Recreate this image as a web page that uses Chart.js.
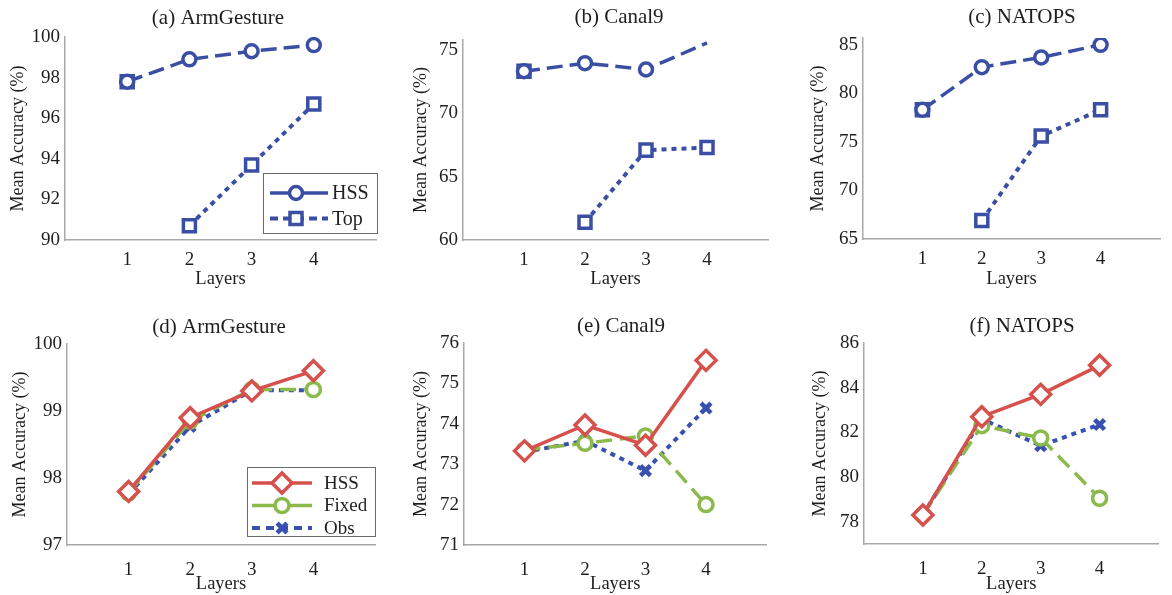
<!DOCTYPE html>
<html><head><meta charset="utf-8">
<script src="https://cdn.jsdelivr.net/npm/chart.js@4.4.1/dist/chart.umd.min.js"></script>
<style>
html,body{margin:0;padding:0;background:#fff;width:1172px;height:595px;overflow:hidden}
canvas{position:absolute;display:block}
</style></head><body>
<canvas id="pa" width="390" height="290" style="left:0;top:0"></canvas>
<canvas id="pb" width="390" height="290" style="left:390px;top:0"></canvas>
<canvas id="pc" width="392" height="290" style="left:780px;top:0"></canvas>
<canvas id="pd" width="390" height="305" style="left:0;top:290px"></canvas>
<canvas id="pe" width="390" height="305" style="left:390px;top:290px"></canvas>
<canvas id="pf" width="392" height="305" style="left:780px;top:290px"></canvas>
<script>
// ---- data ----
const layers = [1, 2, 3, 4];
const xTicks = [1, 2, 3, 4];

const armHSS = [97.8, 98.9, 99.3, 99.6];
const armTop = [97.8, 90.7, 93.7, 96.7];
const armFixed = [97.78, 98.85, 99.32, 99.32];
const armObs = [97.76, 98.77, 99.31, 99.31];

const canalHSS = [73.33, 73.97, 73.47, 75.57];
const canalTop = [73.33, 61.4, 67.1, 67.3];
const canalFixed = [73.35, 73.52, 73.7, 72.0];
const canalObs = [73.3, 73.58, 72.84, 74.39];

const natopsHSS = [78.3, 82.7, 83.7, 85.0];
const natopsTop = [78.3, 66.9, 75.6, 78.3];
const natopsFixed = [78.3, 82.3, 81.75, 79.05];
const natopsObs = [78.3, 82.6, 81.4, 82.35];

const yTicksA = [90, 92, 94, 96, 98, 100];
const yTicksB = [60, 65, 70, 75];
const yTicksC = [65, 70, 75, 80, 85];
const yTicksD = [97, 98, 99, 100];
const yTicksE = [71, 72, 73, 74, 75, 76];
const yTicksF = [78, 80, 82, 84, 86];

const seriesTop = ['HSS', 'Top'];
const seriesBottom = ['HSS', 'Fixed', 'Obs'];

// ---- styling ----
const FONT = "'Liberation Serif', 'Times New Roman', serif";
const TXT = '#1e1e1e';
const AXIS = '#a8a8a8';
const BLUE = '#3a4fa4';
const BLUE2 = '#3850b0';
const RED = '#d6504c';
const GREEN = '#8bb94c';
Chart.defaults.font.family = FONT;
Chart.defaults.color = TXT;

const pts = arr => layers.map((l, i) => ({x: l, y: arr[i]}));

function dsHSSTop(arr, hideLast) {
  return {label: seriesTop[0], data: pts(arr), borderColor: BLUE, borderWidth: 3.5, borderDash: [16, 7],
    pointStyle: 'circle', pointRadius: hideLast ? [6.5, 6.5, 6.5, 0] : 6.5, pointBorderWidth: 3.5,
    pointBorderColor: BLUE, pointBackgroundColor: '#fff', tension: 0};
}
function dsTop(arr) {
  return {label: seriesTop[1], data: pts(arr), borderColor: BLUE, borderWidth: 4, borderDash: [5, 5],
    segment: {borderColor: c => c.p0DataIndex === 0 ? 'rgba(0,0,0,0)' : undefined},
    pointStyle: 'rect', pointRadius: 8.5, pointBorderWidth: 3.5,
    pointBorderColor: BLUE, pointBackgroundColor: '#fff', tension: 0};
}
function dsHSSBot(arr) {
  return {label: seriesBottom[0], data: pts(arr), borderColor: RED, borderWidth: 3.5,
    pointStyle: 'rectRot', pointRadius: 10, pointBorderWidth: 3.5,
    pointBorderColor: RED, pointBackgroundColor: '#fff', tension: 0};
}
function dsFixed(arr) {
  return {label: seriesBottom[1], data: pts(arr), borderColor: GREEN, borderWidth: 3.5, borderDash: [16, 8],
    pointStyle: 'circle', pointRadius: 7, pointBorderWidth: 3.5,
    pointBorderColor: GREEN, pointBackgroundColor: '#fff', tension: 0};
}
function dsObs(arr) {
  return {label: seriesBottom[2], data: pts(arr), borderColor: BLUE2, borderWidth: 4, borderDash: [5, 5],
    pointStyle: 'crossRot', pointRadius: 7, pointBorderWidth: 4.5,
    pointBorderColor: BLUE2, pointBackgroundColor: BLUE2, tension: 0};
}

// ---- plugins ----
const titlePlugin = {
  id: 'panelTitle',
  afterDraw(chart, args, o) {
    if (!o || !o.text) return;
    const ctx = chart.ctx;
    ctx.save();
    ctx.font = '21px ' + FONT;
    ctx.fillStyle = TXT;
    ctx.textAlign = 'center';
    ctx.textBaseline = 'middle';
    ctx.fillText(o.text, o.x, o.y);
    ctx.restore();
  }
};

function drawMarker(ctx, ds, x, y) {
  ctx.save();
  ctx.setLineDash([]);
  ctx.strokeStyle = ds.pointBorderColor;
  ctx.fillStyle = ds.pointBackgroundColor;
  ctx.lineWidth = ds.pointBorderWidth;
  const r = Array.isArray(ds.pointRadius) ? ds.pointRadius[0] : ds.pointRadius;
  Chart.helpers.drawPoint(ctx, {pointStyle: ds.pointStyle, radius: r, borderWidth: ds.pointBorderWidth, rotation: 0}, x, y);
  ctx.restore();
}

const legendPlugin = {
  id: 'boxLegend',
  afterDraw(chart, args, o) {
    if (!o || !o.items) return;
    const ctx = chart.ctx;
    ctx.save();
    ctx.fillStyle = '#fff';
    ctx.fillRect(o.x, o.y, o.w, o.h);
    ctx.strokeStyle = '#6a6a6a';
    ctx.lineWidth = 1;
    ctx.strokeRect(o.x + 0.5, o.y + 0.5, o.w, o.h);
    o.items.forEach((it, i) => {
      const ds = chart.data.datasets[it.ds];
      const y = o.rows[i];
      ctx.save();
      ctx.setLineDash(it.dash || []);
      ctx.strokeStyle = ds.borderColor;
      ctx.lineWidth = ds.borderWidth;
      ctx.beginPath();
      ctx.moveTo(o.lx0, y);
      ctx.lineTo(o.lx1, y);
      ctx.stroke();
      ctx.restore();
      drawMarker(ctx, ds, o.mx, y);
      ctx.fillStyle = TXT;
      ctx.font = o.fs + 'px ' + FONT;
      ctx.textAlign = 'left';
      ctx.textBaseline = 'middle';
      ctx.fillText(ds.label, o.tx, y + 1);
    });
    ctx.restore();
  }
};

function makePanel(id, c) {
  new Chart(document.getElementById(id), {
    type: 'line',
    data: {datasets: c.datasets},
    plugins: [titlePlugin, legendPlugin],
    options: {
      responsive: false,
      animation: false,
      events: [],
      layout: {padding: {left: 0, top: c.T, right: c.R, bottom: 0}},
      plugins: {
        legend: {display: false},
        tooltip: {enabled: false},
        title: {display: false},
        panelTitle: {text: c.title, x: c.tx, y: c.ty},
        boxLegend: c.legend || {}
      },
      scales: {
        x: {
          type: 'linear', min: 0, max: 5,
          afterBuildTicks: s => { s.ticks = xTicks.map(v => ({value: v})); },
          afterFit: s => { s.height = c.H - c.B; },
          grid: {display: false, drawTicks: false},
          border: {display: true, color: AXIS, width: 1.5},
          ticks: {padding: c.xtp, color: TXT, font: {size: 19}, autoSkip: false, maxRotation: 0},
          title: {display: true, text: 'Layers', color: TXT, font: {size: 18.5}, padding: {top: 0, bottom: c.xtb}}
        },
        y: {
          type: 'linear', min: c.ymin, max: c.ymax,
          afterBuildTicks: s => { s.ticks = c.yTicks.map(v => ({value: v})); },
          afterFit: s => { s.width = c.L; },
          grid: {display: false, drawTicks: false},
          border: {display: true, color: AXIS, width: 1.5},
          ticks: {padding: 5, color: TXT, font: {size: 19}},
          title: {display: true, text: 'Mean Accuracy (%)', color: TXT, font: {size: 18}, padding: {top: c.ytp, bottom: 0}}
        }
      }
    }
  });
}

makePanel('pa', {
  datasets: [dsHSSTop(armHSS), dsTop(armTop)],
  ymin: 90, ymax: 100, yTicks: yTicksA,
  title: '(a) ArmGesture', tx: 218, ty: 18,
  L: 65, R: 14, T: 37, B: 240, H: 290, ytp: 7, xtp: 9, xtb: 0,
  legend: {x: 263, y: 173, w: 114, h: 60, rows: [193, 218.5], lx0: 270, lx1: 328, mx: 296, tx: 332, fs: 20,
    items: [{ds: 0, dash: []}, {ds: 1, dash: [8, 5]}]}
});
makePanel('pb', {
  datasets: [dsHSSTop(canalHSS, true), dsTop(canalTop)],
  ymin: 60, ymax: 75.8, yTicks: yTicksB,
  title: '(b) Canal9', tx: 229, ty: 17,
  L: 73, R: 10, T: 40, B: 240, H: 290, ytp: 20, xtp: 9, xtb: 0
});
makePanel('pc', {
  datasets: [dsHSSTop(natopsHSS), dsTop(natopsTop)],
  ymin: 65, ymax: 85.7, yTicks: yTicksC,
  title: '(c) NATOPS', tx: 242, ty: 17,
  L: 83, R: 0, T: 38, B: 239, H: 290, ytp: 27, xtp: 9, xtb: 0
});
makePanel('pd', {
  datasets: [dsHSSBot(armHSS), dsFixed(armFixed), dsObs(armObs)],
  ymin: 97, ymax: 100, yTicks: yTicksD,
  title: '(d) ArmGesture', tx: 219, ty: 37,
  L: 67, R: 15, T: 54, B: 255, H: 305, ytp: 9, xtp: 14, xtb: 0,
  legend: {x: 247, y: 177, w: 128, h: 69, rows: [193, 215.5, 238], lx0: 252, lx1: 312, mx: 282, tx: 324, fs: 19,
    items: [{ds: 0, dash: []}, {ds: 1, dash: []}, {ds: 2, dash: [8, 6]}]}
});
makePanel('pe', {
  datasets: [dsHSSBot(canalHSS), dsFixed(canalFixed), dsObs(canalObs)],
  ymin: 71, ymax: 76, yTicks: yTicksE,
  title: '(e) Canal9', tx: 231, ty: 36,
  L: 74, R: 9, T: 53, B: 255, H: 305, ytp: 20, xtp: 14, xtb: 0
});
makePanel('pf', {
  datasets: [dsHSSBot(natopsHSS), dsFixed(natopsFixed), dsObs(natopsObs)],
  ymin: 77, ymax: 86, yTicks: yTicksF,
  title: '(f) NATOPS', tx: 242, ty: 36,
  L: 84, R: 0, T: 53, B: 254, H: 305, ytp: 29, xtp: 14, xtb: 0
});
</script>
</body></html>
